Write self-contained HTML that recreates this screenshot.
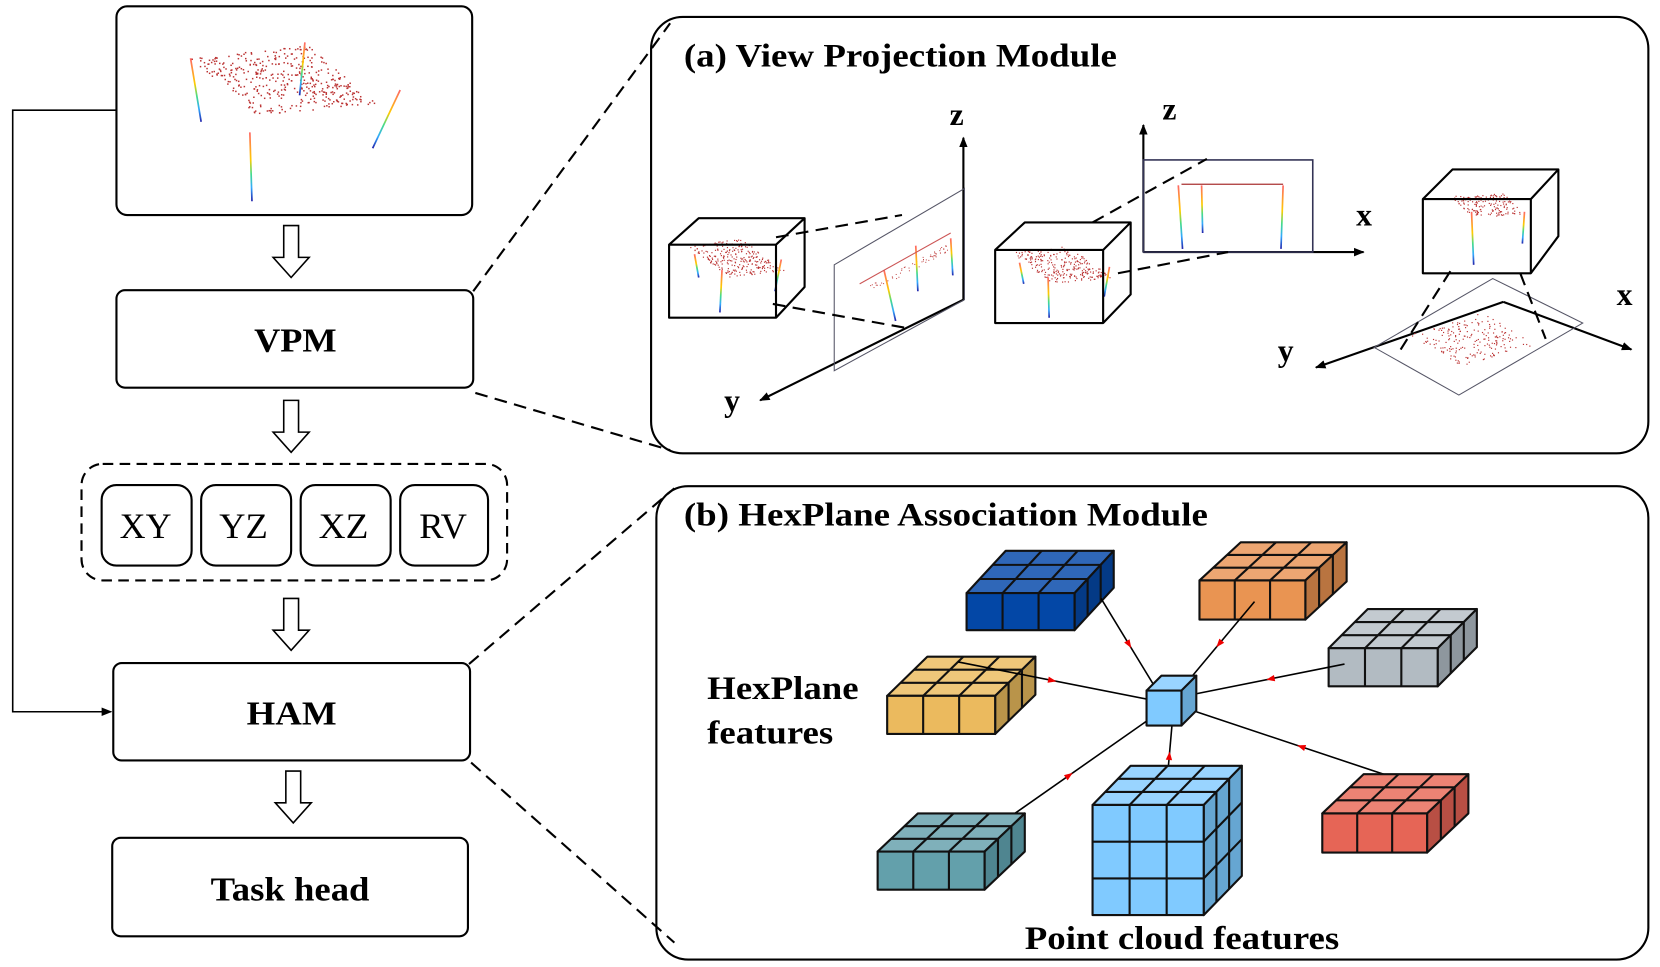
<!DOCTYPE html>
<html><head><meta charset="utf-8"><style>
html,body{margin:0;padding:0;background:#fff;}
svg{display:block;}
</style></head><body>
<svg id="s" width="1660" height="967" viewBox="0 0 1568 913" preserveAspectRatio="none" xmlns="http://www.w3.org/2000/svg" font-family="'Liberation Serif', 'DejaVu Serif', serif">
<defs>
<marker id="ah" markerWidth="10" markerHeight="10" refX="9" refY="5" orient="auto" markerUnits="userSpaceOnUse"><path d="M0,1 L10,5 L0,9 Z" fill="#000"/></marker>
</defs>
<g fill="none" stroke="#000" stroke-width="2">
<rect x="110" y="6" width="336" height="197" rx="10"/>
<rect x="110" y="274" width="337" height="92" rx="8"/>
<rect x="77" y="438" width="402" height="110" rx="20" stroke-dasharray="10,6"/>
<rect x="96" y="458" width="85" height="76" rx="14"/>
<rect x="190" y="458" width="85" height="76" rx="14"/>
<rect x="284" y="458" width="85" height="76" rx="14"/>
<rect x="378" y="458" width="83" height="76" rx="14"/>
<rect x="107" y="626" width="337" height="92" rx="8"/>
<rect x="106" y="791" width="336" height="93" rx="8"/>
<rect x="615" y="16" width="942" height="412" rx="30"/>
<rect x="620" y="459" width="937" height="447" rx="30"/>
</g>
<g fill="#fff" stroke="#000" stroke-width="1.5">
<path d="M268,213 h14 v30 h10 l-17,19 l-17,-19 h10 z"/>
<path d="M268,378 h14 v30 h10 l-17,19 l-17,-19 h10 z"/>
<path d="M268,565 h14 v30 h10 l-17,19 l-17,-19 h10 z"/>
<path d="M270,728 h14 v30 h10 l-17,19 l-17,-19 h10 z"/>
</g>
<polyline points="110,104 12,104 12,672 105,672" fill="none" stroke="#000" stroke-width="1.5" marker-end="url(#ah)"/>
<g stroke="#000" stroke-width="2" stroke-dasharray="12,7" fill="none">
<line x1="447" y1="275" x2="633" y2="22"/>
<line x1="449" y1="371" x2="633" y2="425"/>
<line x1="443" y1="627" x2="637" y2="461"/>
<line x1="445" y1="720" x2="637" y2="890"/>
</g>
<g font-weight="bold" font-size="32">
<text x="240" y="332" textLength="78" lengthAdjust="spacingAndGlyphs">VPM</text>
<text x="233" y="684" textLength="85" lengthAdjust="spacingAndGlyphs">HAM</text>
<text x="199" y="850" textLength="150" lengthAdjust="spacingAndGlyphs">Task head</text>
</g>
<g font-size="34">
<text x="113" y="508" textLength="49" lengthAdjust="spacingAndGlyphs">XY</text>
<text x="207" y="508" textLength="46" lengthAdjust="spacingAndGlyphs">YZ</text>
<text x="301" y="508" textLength="47" lengthAdjust="spacingAndGlyphs">XZ</text>
<text x="396" y="508" textLength="45" lengthAdjust="spacingAndGlyphs">RV</text>
</g>
<g font-weight="bold" font-size="31">
<text x="646" y="63" textLength="409" lengthAdjust="spacingAndGlyphs">(a) View Projection Module</text>
<text x="646" y="496" textLength="495" lengthAdjust="spacingAndGlyphs">(b) HexPlane Association Module</text>
<text x="668" y="660" textLength="143" lengthAdjust="spacingAndGlyphs">HexPlane</text>
<text x="668" y="702" textLength="119" lengthAdjust="spacingAndGlyphs">features</text>
<text x="968" y="896" textLength="297" lengthAdjust="spacingAndGlyphs">Point cloud features</text>
</g>
<g font-weight="bold" font-size="30">
<text x="897" y="118">z</text><text x="1098" y="113">z</text>
<text x="684" y="388">y</text><text x="1207" y="341">y</text>
<text x="1281" y="213">x</text><text x="1527" y="288">x</text>
</g>
<g stroke="#000" stroke-width="2" fill="none">
<line x1="910" y1="283" x2="910" y2="130" marker-end="url(#ah)"/>
<line x1="910" y1="283" x2="718" y2="378" marker-end="url(#ah)"/>
<line x1="1080" y1="238" x2="1080" y2="118" marker-end="url(#ah)"/>
<line x1="1080" y1="238" x2="1288" y2="238" marker-end="url(#ah)"/>
<line x1="1420" y1="285" x2="1243" y2="347" marker-end="url(#ah)"/>
<line x1="1420" y1="285" x2="1541" y2="330" marker-end="url(#ah)"/>
</g>
<polygon points="788,250 911,178 911,283 788,350" fill="none" stroke="#556" stroke-width="1"/>
<rect x="1080" y="151" width="160" height="87" fill="none" stroke="#335" stroke-width="1.5"/>
<polygon points="1410,263 1495,305 1378,373 1298,328" fill="none" stroke="#556" stroke-width="1"/>
<g id="pc"></g>
<g stroke="#000" stroke-width="2" fill="none" stroke-linejoin="round">
<path d="M632,231 h101 v69 h-101 z M632,231 l28,-25 h100 l-27,25 M760,206 v65 l-27,29"/>
<path d="M940,236 h102 v69 h-102 z M940,236 l28,-26 h100 l-26,26 M1068,210 v68 l-26,27"/>
<path d="M1344,188 h102 v70 h-102 z M1344,188 l28,-28 h100 l-26,28 M1472,160 v63 l-26,35"/>
</g>
<g stroke="#000" stroke-width="2" stroke-dasharray="12,7" fill="none">
<line x1="733" y1="224" x2="852" y2="203"/><line x1="730" y1="287" x2="858" y2="310"/>
<line x1="1032" y1="210" x2="1140" y2="150"/><line x1="1056" y1="258" x2="1160" y2="238"/>
<line x1="1370" y1="256" x2="1323" y2="330"/><line x1="1436" y1="258" x2="1460" y2="320"/>
</g>
<g id="cubes"></g>
</svg>
<script>
var NS="http://www.w3.org/2000/svg";
function el(p,t,a){var e=document.createElementNS(NS,t);for(var k in a)e.setAttribute(k,a[k]);p.appendChild(e);return e;}
var seed=7;function r(){seed=(seed*16807)%2147483647;return seed/2147483647;}
var pc=document.getElementById('pc');
var d=document.querySelector('defs');
var lg=el(d,'linearGradient',{id:'lg',x1:0,y1:0,x2:0,y2:1});
[['0','#f66'],['0.4','#fc0'],['0.6','#4d8'],['0.8','#3af'],['1','#22a']].forEach(function(s){el(lg,'stop',{offset:s[0],'stop-color':s[1]});});
function cloud(pts,n,legs,sz){
 for(var i=0;i<n;i++){var a=r(),b=r();
  var x=pts[0][0]+(pts[1][0]-pts[0][0])*a+(pts[3][0]-pts[0][0])*b;
  var y=pts[0][1]+(pts[1][1]-pts[0][1])*a+(pts[3][1]-pts[0][1])*b;
  el(pc,'rect',{x:x,y:y,width:sz||1.1,height:sz||1.1,fill:'#b33'});}
 legs.forEach(function(l){el(pc,'line',{x1:l[0],y1:l[1],x2:l[2],y2:l[3],stroke:'url(#lg)','stroke-width':1.6});});
}
cloud([[180,55],[290,42],[380,85],[245,110]],420,[[180,55,190,115],[288,40,283,90],[378,85,352,140],[236,125,238,190]],1.4);
cloud([[650,232],[700,225],[740,240],[690,262]],260,[[656,240,660,262],[682,255,680,295],[738,245,732,275]]);
cloud([[955,238],[1010,232],[1048,245],[995,268]],260,[[963,248,967,268],[990,262,991,300],[1048,252,1043,280]]);
cloud([[1370,185],[1420,182],[1445,192],[1390,205]],160,[[1390,200,1392,250],[1440,200,1438,230]]);
cloud([[1330,315],[1400,295],[1455,320],[1380,345]],200,[]);
cloud([[820,270],[895,230],[897,236],[822,276]],60,[[835,255,846,303],[865,232,867,275],[898,225,900,260]],0.9);
el(pc,'line',{x1:812,y1:268,x2:898,y2:220,stroke:'#c55','stroke-width':1});
el(pc,'line',{x1:1116,y1:174,x2:1212,y2:174,stroke:'#a33','stroke-width':1.2});
cloud([[0,0],[0,0],[0,0],[0,0]],0,[[1113,175,1117,235],[1135,175,1136,220],[1190,175,1190,220],[1212,175,1210,235]]);
var cg=document.getElementById('cubes');
function cub(x,y,w,h,dx,dy,rows,cf,ct,cs,nogrid){
 var g=el(cg,'g',{stroke:'#111','stroke-width':2,'stroke-linejoin':'round'});
 el(g,'polygon',{points:[x,y,x+dx,y+dy,x+w+dx,y+dy,x+w,y].join(' '),fill:ct});
 el(g,'polygon',{points:[x+w,y,x+w+dx,y+dy,x+w+dx,y+h+dy,x+w,y+h].join(' '),fill:cs});
 el(g,'rect',{x:x,y:y,width:w,height:h,fill:cf});
 if(nogrid)return;
 for(var i=1;i<3;i++){var f=i/3;
  el(g,'line',{x1:x+w*f,y1:y,x2:x+w*f,y2:y+h});
  el(g,'line',{x1:x+w*f,y1:y,x2:x+w*f+dx,y2:y+dy});
  el(g,'line',{x1:x+dx*f,y1:y+dy*f,x2:x+w+dx*f,y2:y+dy*f});
  el(g,'line',{x1:x+w+dx*f,y1:y+dy*f,x2:x+w+dx*f,y2:y+h+dy*f});
 }
 for(var j=1;j<rows;j++){var q=h*j/rows;
  el(g,'line',{x1:x,y1:y+q,x2:x+w,y2:y+q});
  el(g,'line',{x1:x+w,y1:y+q,x2:x+w+dx,y2:y+q+dy});}
}
var lines=[[1040,565,1093,652],[1185,568,1118,648],[1270,627,1130,655],[905,625,1083,660],[930,788,1090,676],[1328,738,1130,672],[1102,742,1107,685]];
function lns(){lines.forEach(function(l){el(cg,'line',{x1:l[0],y1:l[1],x2:l[2],y2:l[3],stroke:'#000','stroke-width':1.5});
 var mx=(l[0]+l[2])/2,my=(l[1]+l[3])/2,a=Math.atan2(l[3]-l[1],l[2]-l[0]);
 el(cg,'path',{d:'M-4,-3 L4,0 L-4,3 Z',fill:'#e00',transform:'translate('+mx+','+my+') rotate('+a*180/Math.PI+')'});});}
cub(913,560,102,35,37,-40,1,'#0347a6','#2f67b8','#043a86');
cub(1133,548,100,37,39,-36,1,'#e99452','#eda672','#b97440');
cub(1255,612,103,36,37,-37,1,'#b2bbc2','#c3cad0','#8e979e');
cub(838,657,102,36,38,-37,1,'#ebba5e','#efc77a','#b9944a');
lns();
cub(829,804,101,36,38,-36,1,'#63a0ab','#7fb0ba','#4f8590');
cub(1249,768,99,37,39,-37,1,'#e66556','#ec8374','#b84f44');
cub(1032,760,105,104,36,-37,3,'#80caff','#99d4ff','#66a6d2');
cub(1083,652,33,33,14,-14,1,'#80caff','#99d4ff','#66a6d2',true);
</script>
</body></html>
